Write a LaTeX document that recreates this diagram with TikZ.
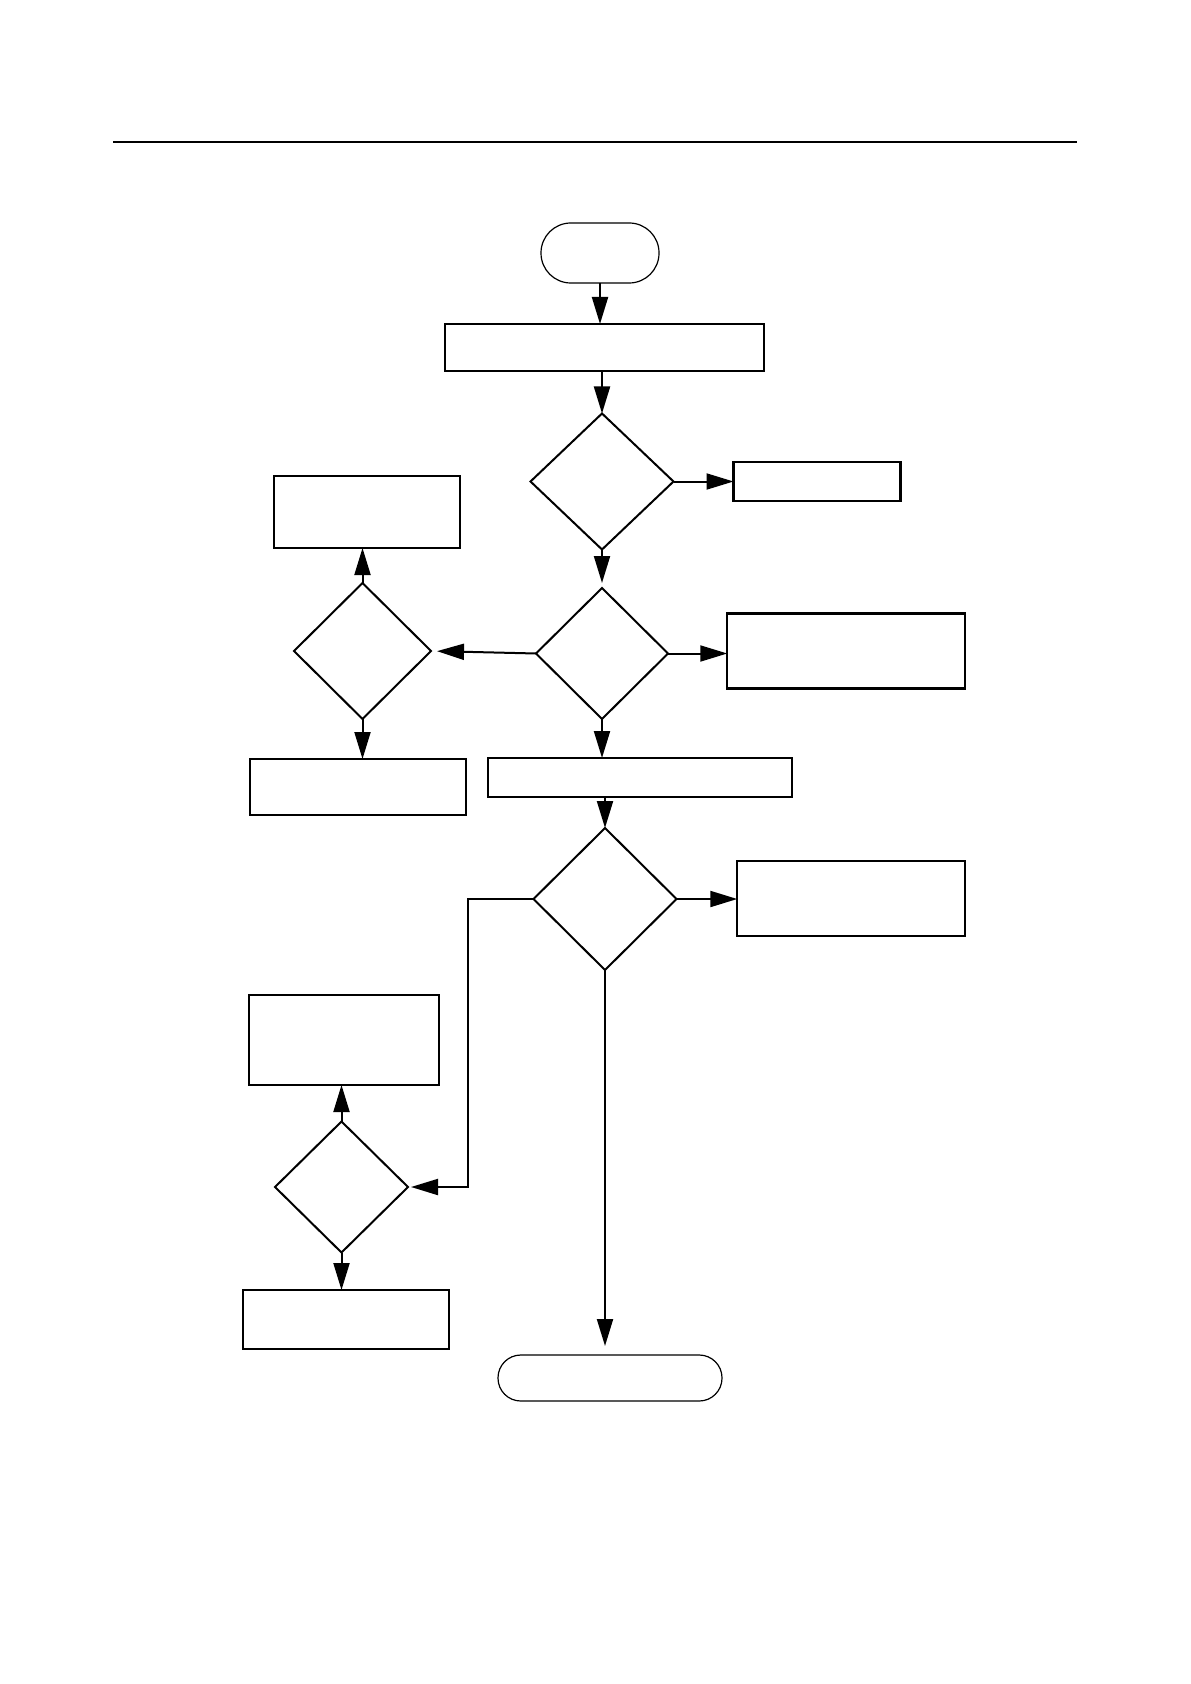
\documentclass[tikz,border=0pt]{standalone}
\usepackage{tikz}
\usetikzlibrary{shapes.geometric,arrows.meta}

\begin{document}
\begin{tikzpicture}[x=0.5pt,y=-0.5pt,
  box/.style={draw,line width=1.2pt,outer sep=0pt,inner sep=0pt},
  decision/.style={draw,diamond,line width=1pt,outer sep=0pt,inner sep=0pt},
  terminal/.style={draw,rectangle,line width=0.6pt,outer sep=0pt,inner sep=0pt},
  arr/.style={line width=1pt,-{Stealth[length=13.5pt,width=8pt,inset=0pt]}}]
  \useasboundingbox (0,0) rectangle (1190,1684);
  % rule at the head of the page
  \draw[line width=1pt] (113,142) -- (1077,142);
  % main column
  \node[terminal,rounded corners=14.9pt,minimum width=59pt,minimum height=30pt] (start) at (600,253) {};
  \node[box,minimum width=159.5pt,minimum height=23.5pt] (input) at (604.5,347.5) {};
  \node[decision,minimum width=71.5pt,minimum height=68pt] (d1) at (602,481.5) {};
  \node[decision,minimum width=66pt,minimum height=65.5pt] (d2) at (602,653.5) {};
  \node[box,minimum width=151.75pt,minimum height=19.5pt] (mid) at (640,777.5) {};
  \node[decision,minimum width=71.5pt,minimum height=71pt] (d3) at (605,899) {};
  \node[terminal,rounded corners=11.4pt,minimum width=112pt,minimum height=23pt] (stop) at (610,1378) {};
  % right side
  \node[box,minimum width=83.5pt,minimum height=19.5pt] (r1) at (817,481.5) {};
  \node[box,minimum width=118.75pt,minimum height=37.5pt] (r2) at (846,651) {};
  \node[box,minimum width=113.75pt,minimum height=37.5pt] (r3) at (851,898.5) {};
  % left side
  \node[box,minimum width=93pt,minimum height=36pt] (lt) at (367,512) {};
  \node[decision,minimum width=68.5pt,minimum height=68pt] (dl) at (362.5,651) {};
  \node[box,minimum width=108pt,minimum height=28pt] (lb) at (358,787) {};
  \node[box,minimum width=95pt,minimum height=45pt] (lt2) at (344,1040) {};
  \node[decision,minimum width=66.5pt,minimum height=65.5pt] (dl2) at (341.5,1187) {};
  \node[box,minimum width=103pt,minimum height=29.5pt] (lb2) at (346,1319.5) {};
  \coordinate (bend) at (468,1040);

  \draw[arr] (start.south) -- (start.south |- input.north);
  \draw[arr] (input.south -| d1.north) -- (d1.north);
  \draw[arr] (d1.east) -- (r1.west);
  \draw[arr,shorten >=2.5pt] (d1.south) -- (d2.north);
  \draw[arr] (d2.east) -- (d2.east -| r2.west);
  \draw[arr,shorten >=3pt] (d2.west) -- (dl.east);
  \draw[arr] (dl.north) -- (dl.north |- lt.south);
  \draw[arr] (dl.south) -- (dl.south |- lb.north);
  \draw[arr] (d2.south) -- (d2.south |- mid.north);
  \draw[arr] (d3.north |- mid.south) -- (d3.north);
  \draw[arr] (d3.east) -- (d3.east -| r3.west);
  \draw[arr,shorten >=1.5pt] (d3.west) -| (bend) |- (dl2.east);
  \draw[arr] (dl2.north) -- (dl2.north |- lt2.south);
  \draw[arr] (dl2.south) -- (dl2.south |- lb2.north);
  \draw[arr,shorten >=4.5pt] (d3.south) -- (d3.south |- stop.north);
\end{tikzpicture}
\end{document}
